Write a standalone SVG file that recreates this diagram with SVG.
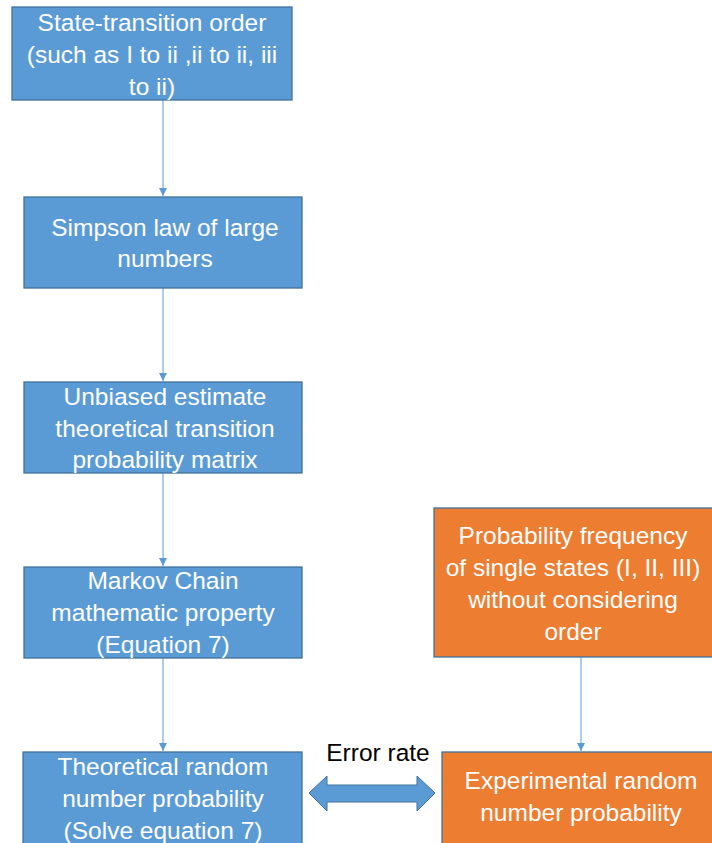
<svg xmlns="http://www.w3.org/2000/svg" width="712" height="843" viewBox="0 0 712 843">
<style>
.b{fill:#5B9BD5;stroke:#41719C;stroke-width:1.3}
.o{fill:#ED7D31;stroke:#41719C;stroke-width:1.3}
text{font-family:"Liberation Sans","Open Sans",sans-serif;font-size:24.5px;fill:#fff;text-anchor:middle}
.k{fill:#000}
.c{stroke:#5B9BD5;stroke-width:1;fill:none;marker-end:url(#ah)}
</style>
<defs>
<marker id="ah" markerWidth="10" markerHeight="10" refX="8" refY="4" orient="auto" markerUnits="userSpaceOnUse">
<path d="M0,0 L8,4 L0,8 z" fill="#5B9BD5"/>
</marker>
</defs>
<rect width="712" height="843" fill="#fff"/>
<g id="connectors">
<line class="c" x1="163" y1="100" x2="163" y2="196"/>
<line class="c" x1="163" y1="288" x2="163" y2="381"/>
<line class="c" x1="163" y1="473" x2="163" y2="566"/>
<line class="c" x1="163" y1="658" x2="163" y2="751"/>
<line class="c" x1="581" y1="657" x2="581" y2="751"/>
<path d="M309,793 L327,776 L327,785 L417,785 L417,776 L435,793 L417,811 L417,802 L327,802 L327,811 z" fill="#5B9BD5" stroke="#41719C" stroke-width="1"/>
<text class="k" x="378" y="761">Error rate</text>
</g>
<g id="n1">
<rect class="b" x="12" y="7" width="280" height="93"/>
<text x="152" y="31">State-transition order</text>
<text x="152" y="63">(such as I to ii ,ii to ii, iii</text>
<text x="152" y="95">to ii)</text>
</g>
<g id="n2">
<rect class="b" x="24" y="197" width="278" height="91"/>
<text x="165" y="236">Simpson law of large</text>
<text x="165" y="267">numbers</text>
</g>
<g id="n3">
<rect class="b" x="24" y="382" width="278" height="91"/>
<text x="165" y="405">Unbiased estimate</text>
<text x="165" y="437">theoretical transition</text>
<text x="165" y="468">probability matrix</text>
</g>
<g id="n4">
<rect class="b" x="24" y="567" width="278" height="91"/>
<text x="163" y="589">Markov Chain</text>
<text x="163" y="621">mathematic property</text>
<text x="163" y="653">(Equation 7)</text>
</g>
<g id="n5">
<rect class="b" x="23" y="752" width="279" height="100"/>
<text x="163" y="775">Theoretical random</text>
<text x="163" y="807">number probability</text>
<text x="163" y="839">(Solve equation 7)</text>
</g>
<g id="n6">
<rect class="o" x="434" y="508" width="290" height="149"/>
<text x="573" y="544">Probability frequency</text>
<text x="573" y="576">of single states (I, II, III)</text>
<text x="573" y="608">without considering</text>
<text x="573" y="640">order</text>
</g>
<g id="n7">
<rect class="o" x="442" y="752" width="280" height="100"/>
<text x="581" y="789">Experimental random</text>
<text x="581" y="821">number probability</text>
</g>
</svg>
